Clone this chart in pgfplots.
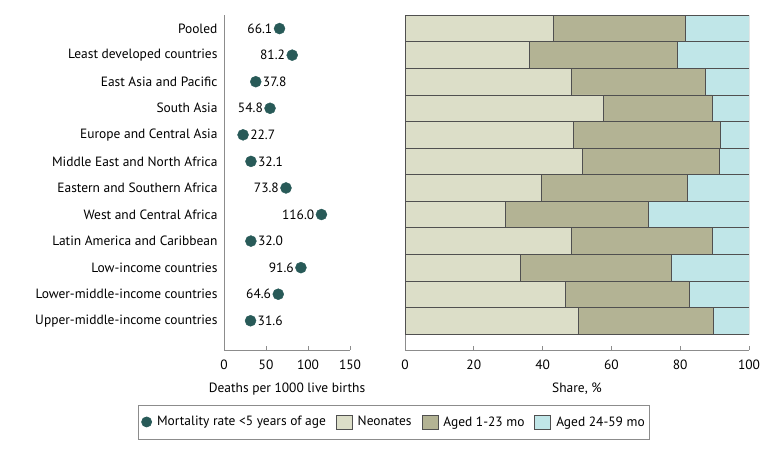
\documentclass[border=0pt]{standalone}
\usepackage{fontspec}
\setmainfont{PT Sans}
\usepackage{pgfplots}
\pgfplotsset{compat=1.18}
\definecolor{dotc}{RGB}{40,90,88}
\definecolor{neo}{RGB}{220,222,200}
\definecolor{mid}{RGB}{179,179,148}
\definecolor{old}{RGB}{192,230,232}
\definecolor{edgec}{RGB}{80,80,80}
\definecolor{axc}{RGB}{140,140,140}
\begin{document}
\begin{tikzpicture}
\useasboundingbox (0bp,0bp) rectangle (780bp,459bp);
\pgfplotsset{
  /pgf/number format/assume math mode=true,
  every axis/.append style={
    scale only axis, height=334.7bp,
    ymin=-1.1, ymax=11.5,
    axis lines*=left,
    axis line style={draw=axc,line width=0.8pt,-},
    font=\fontsize{13.5}{15}\selectfont,
    tick style={draw=axc,line width=0.8pt},
    major tick length=4bp,
    xtick align=inside,
    ytick style={draw=none},
    x tick label style={yshift=-6bp},
    xlabel style={yshift=-7bp},
  },
  barleg/.style={legend image code/.code={\draw[##1,line width=0.8pt] (0bp,-7bp) rectangle (16bp,7bp);}},
}
\begin{axis}[
  at={(224bp,109bp)}, anchor=south west, width=126bp,
  xmin=0, xmax=150, xtick={0,50,100,150},
  ytick={0,...,11},
  yticklabels={Upper-middle-income countries,Lower-middle-income countries,Low-income countries,Latin America and Caribbean,West and Central Africa,Eastern and Southern Africa,Middle East and North Africa,Europe and Central Asia,South Asia,East Asia and Pacific,Least developed countries,Pooled},
  y tick label style={xshift=-3bp},
  xlabel={Deaths per 1000 live births},
  point meta=x,
  nodes near coords={\pgfmathprintnumber[fixed,fixed zerofill,precision=1]{\pgfplotspointmeta}},
  clip=false,
]
\addplot[only marks, mark=*, mark size=5.5bp, mark options={draw=dotc,fill=dotc},
  every node near coord/.append style={anchor=east,inner sep=0pt,xshift=-7bp,font=\fontsize{13.5}{15}\selectfont}]
  coordinates {(66.1,11) (81.2,10) (54.8,8) (73.8,5) (116.0,4) (91.6,2) (64.6,1)};
\addplot[only marks, mark=*, mark size=5.5bp, mark options={draw=dotc,fill=dotc},
  every node near coord/.append style={anchor=west,inner sep=0pt,xshift=7bp,font=\fontsize{13.5}{15}\selectfont}]
  coordinates {(37.8,9) (22.7,7) (32.1,6) (32.0,3) (31.6,0)};
\end{axis}
\begin{axis}[
  at={(405bp,109bp)}, anchor=south west, width=344bp,
  xmin=0, xmax=100, xtick={0,20,...,100},
  ytick=\empty,
  xlabel={Share, \%},
  xbar stacked, bar width=1, bar shift=0pt,
  legend columns=4,
  legend style={at={(-0.032,-0.215)}, anchor=center, draw=axc, line width=0.8pt,
    font=\fontsize{13.5}{15}\selectfont, inner xsep=3bp, inner ysep=9.5bp,
    /tikz/every odd column/.append style={column sep=3bp},
    /tikz/every even column/.append style={column sep=8bp}},
  legend cell align=left,
]
\addlegendimage{legend image code/.code={\fill[dotc] (8bp,0bp) circle (5bp);}}
\addlegendentry{Mortality rate <5 years of age}
\addplot[fill=neo, draw=edgec, line width=0.8pt, barleg] coordinates {
(50.4,0) (46.7,1) (33.5,2) (48.4,3) (29.1,4) (39.6,5) (51.5,6) (49.0,7) (57.8,8) (48.5,9) (36.3,10) (43.1,11)};
\addlegendentry{Neonates}
\addplot[fill=mid, draw=edgec, line width=0.8pt, barleg] coordinates {
(39.3,0) (35.9,1) (43.9,2) (40.9,3) (41.6,4) (42.5,5) (39.9,6) (42.6,7) (31.5,8) (38.9,9) (42.8,10) (38.5,11)};
\addlegendentry{Aged 1-23 mo}
\addplot[fill=old, draw=edgec, line width=0.8pt, barleg] coordinates {
(10.3,0) (17.4,1) (22.6,2) (10.7,3) (29.3,4) (17.9,5) (8.6,6) (8.4,7) (10.7,8) (12.6,9) (20.9,10) (18.4,11)};
\addlegendentry{Aged 24-59 mo}
\end{axis}
\end{tikzpicture}
\end{document}
